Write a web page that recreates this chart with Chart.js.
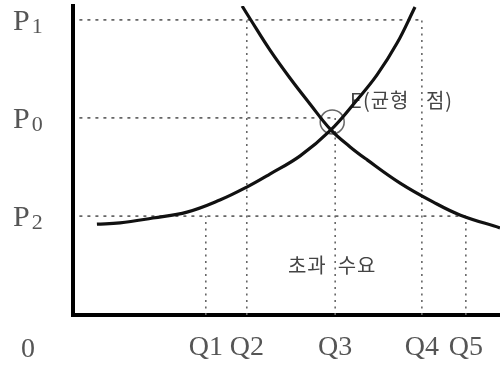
<!DOCTYPE html>
<html>
<head>
<meta charset="utf-8">
<script src="https://cdn.jsdelivr.net/npm/chart.js@4"></script>
<style>
  html, body { margin: 0; padding: 0; background: #fff; }
  #wrap { width: 500px; height: 366px; }
</style>
</head>
<body>
<div id="wrap"><canvas id="chart"></canvas></div>
<script>
// price levels (P1, P0, P2) and their subscripts
const pNames = ['1', '0', '2'];
const priceLevels = [95.5, 63.8, 32.0];
// where each price guide stops on the quantity axis
const priceGuideEnd = [81.7, 61.4, 92.0];

// quantity ticks
const qNames = ['Q1', 'Q2', 'Q3', 'Q4', 'Q5'];
const qLevels = [31.1, 40.7, 61.4, 81.7, 92.0];
// where each quantity guide stops on the price axis
const qGuideTop = [32.0, 95.5, 63.8, 95.5, 32.0];

// supply curve
const supplyQ = [5.6, 11.0, 18.7, 26.7, 34.4, 40.7, 46.1, 53.2, 60.4, 66.5, 71.2, 75.9, 80.1];
const supplyP = [29.4, 29.8, 31.4, 33.3, 37.2, 41.4, 45.6, 51.5, 59.9, 69.6, 77.7, 88.0, 99.7];

// demand curve
const demandQ = [39.6, 41.5, 46.1, 50.8, 55.5, 60.4, 64.9, 68.9, 76.6, 84.3, 90.6, 100];
const demandP = [100, 95.8, 85.8, 76.7, 68.3, 59.9, 54.4, 50.2, 42.7, 36.6, 32.4, 28.2];

// equilibrium marker
const eqPoint = { x: 60.7, y: 62.5 };

const toPoints = (xs, ys) => xs.map((v, i) => ({ x: v, y: ys[i] }));

const curve = (pts) => ({
  data: pts,
  borderColor: '#111',
  borderWidth: 3.2,
  pointRadius: 0,
  tension: 0.4,
  fill: false
});

const guide = (pts, dash) => ({
  data: pts,
  borderColor: '#666',
  borderWidth: 1.6,
  borderDash: dash,
  pointRadius: 0,
  fill: false
});

const datasets = [
  curve(toPoints(supplyQ, supplyP)),
  curve(toPoints(demandQ, demandP)),
  {
    data: [eqPoint],
    pointRadius: 12,
    pointBorderColor: '#666',
    pointBorderWidth: 1.5,
    pointBackgroundColor: 'rgba(0,0,0,0)',
    showLine: false
  }
];
priceLevels.forEach((p, i) => {
  datasets.push(guide([{ x: 1.5, y: p }, { x: priceGuideEnd[i], y: p }], [3, 5]));
});
qLevels.forEach((q, i) => {
  datasets.push(guide([{ x: q, y: 0 }, { x: q, y: qGuideTop[i] }], [2, 4.5]));
});

const notes = {
  id: 'notes',
  beforeDatasetsDraw(chart) {
    const { ctx, scales: { x, y } } = chart;
    ctx.save();
    ctx.fillStyle = '#444';
    ctx.font = '20px "Noto Sans CJK KR"';
    ctx.letterSpacing = '1px';
    ctx.textBaseline = 'middle';
    ctx.textAlign = 'left';
    ctx.fillText('E(균형   점)', x.getPixelForValue(64.9), y.getPixelForValue(69.3));
    ctx.textAlign = 'center';
    ctx.fillText('초과  수요', x.getPixelForValue(60.7), y.getPixelForValue(16.2));
    ctx.restore();
  },
  afterDraw(chart) {
    const { ctx, chartArea, scales: { y } } = chart;
    ctx.save();
    ctx.fillStyle = '#555';
    ctx.textBaseline = 'alphabetic';
    ctx.textAlign = 'left';
    priceLevels.forEach((p, i) => {
      const py = y.getPixelForValue(p);
      ctx.font = '30px "Liberation Serif"';
      ctx.fillText('P', 13, py + 10);
      const w = ctx.measureText('P').width;
      ctx.font = '22px "Liberation Serif"';
      ctx.fillText(pNames[i], 13 + w + 2, py + 13);
    });
    ctx.font = '28px "Liberation Serif"';
    ctx.textAlign = 'center';
    ctx.fillText('0', 28, chartArea.bottom + 42);
    ctx.restore();
  }
};

new Chart(document.getElementById('chart'), {
  type: 'line',
  data: { datasets: datasets },
  options: {
    responsive: true,
    maintainAspectRatio: false,
    animation: false,
    layout: { autoPadding: false, padding: { top: 6, left: 0, right: 0, bottom: 0 } },
    plugins: {
      legend: { display: false },
      tooltip: { enabled: false }
    },
    scales: {
      x: {
        type: 'linear',
        min: 0,
        max: 100,
        grid: { display: true, drawOnChartArea: false, drawTicks: false },
        border: { display: true, color: '#000', width: 4 },
        afterBuildTicks: (s) => { s.ticks = qLevels.map(v => ({ value: v })); },
        afterFit: (s) => {
          s.height = 51;
          s.paddingLeft = 0;
          s.paddingRight = 0;
        },
        ticks: {
          autoSkip: false,
          maxRotation: 0,
          padding: 16,
          color: '#555',
          font: { family: '"Liberation Serif"', size: 28 },
          callback: (v, i) => qNames[i]
        }
      },
      y: {
        type: 'linear',
        min: 0,
        max: 100,
        grid: { display: true, drawOnChartArea: false, drawTicks: false },
        border: { display: true, color: '#000', width: 4 },
        ticks: { display: false },
        afterFit: (s) => { s.width = 73; }
      }
    }
  },
  plugins: [notes]
});
</script>
</body>
</html>
